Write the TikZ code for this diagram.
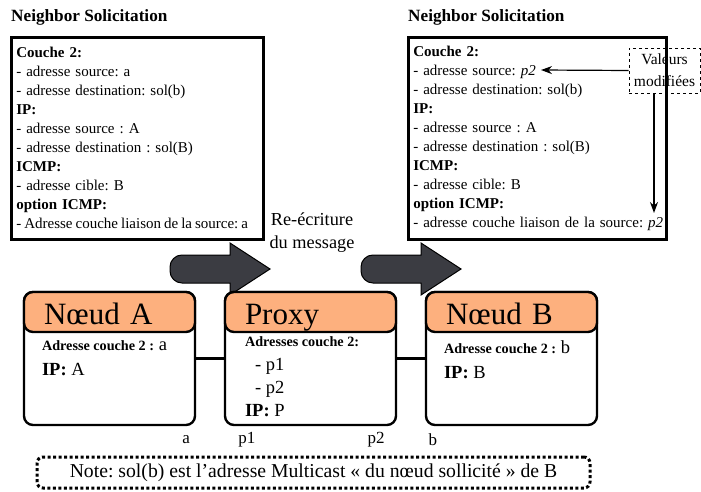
\documentclass[tikz,border=0pt]{standalone}
\usepackage{fontspec}
\setmainfont{Liberation Serif}
\usetikzlibrary{calc,positioning,arrows.meta}
\definecolor{headorange}{HTML}{FDB07E}
\definecolor{arrowgray}{HTML}{3B3C42}
\frenchspacing

\begin{document}
\begin{tikzpicture}[x=1pt,y=-1pt,>={Stealth[length=11pt,width=8pt]},
  msg box/.style={draw,line width=2.6pt,anchor=north west,minimum height=202pt,
    inner xsep=5pt,align=left,font=\fontsize{15}{19}\selectfont},
  msg title/.style={anchor=south west,inner sep=1pt,font=\fontsize{17.2}{18}\selectfont\bfseries},
  node body/.style={draw,line width=2.4pt,rounded corners=9pt,fill=white,minimum width=171pt,minimum height=133pt},
  node head/.style={draw,line width=2.4pt,rounded corners=9pt,fill=headorange,minimum width=171pt,minimum height=40pt,
    text width=131pt,inner xsep=20pt,inner ysep=3pt,text height=26pt,text depth=2pt,align=left,
    font=\fontsize{31}{31}\selectfont},
  body text/.style={anchor=north west,inner sep=0pt,align=left,font=\fontsize{18.5}{25}\selectfont},
  port/.style={font=\fontsize{17}{17}\selectfont},
  big arrow/.style={draw,line width=1pt,fill=arrowgray},
  mod box/.style={draw,dashed,line width=0.8pt,align=center,minimum width=71pt,minimum height=45pt,inner sep=0pt,
    font=\fontsize{15.5}{22}\selectfont},
  mod arrow/.style={->,line width=1.2pt,shorten >=1pt},
  note box/.style={draw,line width=3pt,dash pattern=on 3pt off 2.5pt,rounded corners=6pt,minimum width=553pt,minimum height=31pt,
    font=\fontsize{19.7}{20}\selectfont}]

\useasboundingbox (0,0) rectangle (701,492);
\newcommand{\lbl}[1]{{\fontsize{14.2}{15}\selectfont\bfseries #1}}

% messages
\node[msg box,minimum width=252pt,text width=242pt] (msgA) at (10,36) {\textbf{Couche 2:}\\
- adresse source: a\\
- adresse destination: sol(b)\\
\textbf{IP:}\\
- adresse source : A\\
- adresse destination : sol(B)\\
\textbf{ICMP:}\\
- adresse cible: B\\
\textbf{option ICMP:}\\
\mbox{\spaceskip=3pt - Adresse couche liaison de la source: a}};
\node[msg title] (titleA) at ([yshift=10pt]msgA.north west) {Neighbor Solicitation};

\node[msg box,minimum width=258pt,text width=248pt] (msgB) at (407,36) {\textbf{Couche 2:}\\
- adresse source: \textit{p2}\\
- adresse destination: sol(b)\\
\textbf{IP:}\\
- adresse source : A\\
- adresse destination : sol(B)\\
\textbf{ICMP:}\\
- adresse cible: B\\
\textbf{option ICMP:}\\
\mbox{- adresse couche liaison de la source: \textit{p2}}};
\node[msg title] (titleB) at ([yshift=10pt]msgB.north west) {Neighbor Solicitation};

\node[mod box] (mod) at (664.5,70.5) {Valeurs\\modifiées};
\coordinate (srcp2) at (540,70);
\coordinate (optp2) at (654,214);
\draw[mod arrow] (mod.west) -- (srcp2);
\draw[mod arrow] (mod.south -| optp2) -- (optp2);

% rewrite arrows
\foreach \ox in {0,191} {
  \draw[big arrow,shift={(\ox,0)}] (230,255) [rounded corners=12pt] -- (170,255) -- (170,283) [sharp corners] -- (230,283)
    -- (230,295) -- (270,269) -- (230,243) -- cycle;
}
\node[align=center,font=\fontsize{18.3}{23}\selectfont] (rewrite) at (312,233) {Re-écriture\\du message};

% hosts
\node[node body] (A) at (109.5,358.5) {};
\node[node head,anchor=north] (Ahead) at (A.north) {Nœud A};
\node[body text] (Atext) at ($(A.north west)+(19,50)$) {\lbl{Adresse couche 2 :} a\\ \textbf{IP:} A};

\node[node body] (P) at (310.5,358.5) {};
\node[node head,anchor=north] (Phead) at (P.north) {Proxy};
\node[body text,font=\fontsize{18.5}{23.3}\selectfont] (Ptext) at ($(P.north west)+(21,46)$) {\lbl{Adresses couche 2:}\\
\hspace*{10pt}- p1\\
\hspace*{10pt}- p2\\
\textbf{IP:} P};

\node[node body] (B) at (511.5,358.5) {};
\node[node head,anchor=north] (Bhead) at (B.north) {Nœud B};
\node[body text] (Btext) at ($(B.north west)+(19,50)$) {\lbl{Adresse couche 2 :} b\\ \textbf{IP:} B};

\draw[line width=2.4pt] (A.east) -- (P.west);
\draw[line width=2.4pt] (P.east) -- (B.west);

\node[port] (portA) at ($(A.south east)+(-10,13)$) {a};
\node[port] (portP1) at ($(P.south west)+(23,13)$) {p1};
\node[port] (portP2) at ($(P.south east)+(-21,13)$) {p2};
\node[port] (portB) at ($(B.south west)+(8,13)$) {b};

\node[note box] (note) at (313.5,472.5) {Note: sol(b) est l'adresse Multicast « du nœud sollicité » de B};
\end{tikzpicture}
\end{document}
